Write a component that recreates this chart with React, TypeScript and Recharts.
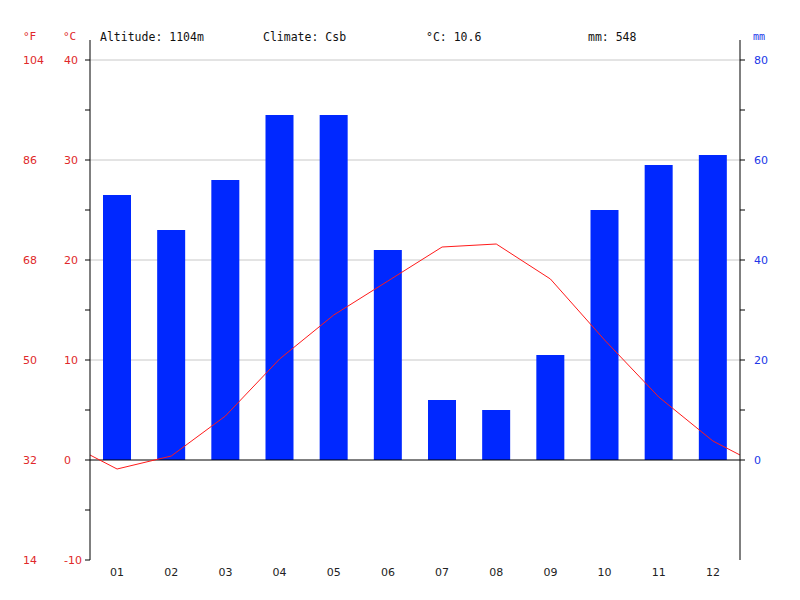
import React from 'react';
import { ComposedChart, Bar, Line, XAxis, YAxis, CartesianGrid, ReferenceLine } from 'recharts';

const months = ['01', '02', '03', '04', '05', '06', '07', '08', '09', '10', '11', '12'];
const monthPos = [0.5, 1.5, 2.5, 3.5, 4.5, 5.5, 6.5, 7.5, 8.5, 9.5, 10.5, 11.5];
const precipitation = [53, 46, 56, 69, 69, 42, 12, 10, 21, 50, 59, 61];
const temperature = [-0.9, 0.4, 4.4, 10.1, 14.5, 17.9, 21.3, 21.6, 18.1, 12.0, 6.3, 1.9];
const edgeTemperature = [0.5, 0.5];
const boundaryTicks = [0, 1, 2, 3, 4, 5, 6, 7, 8, 9, 10, 11, 12];
const celsiusTicks = [-10, -5, 0, 5, 10, 15, 20, 25, 30, 35, 40];
const fahrenheitTicks = [14, 32, 50, 68, 86, 104];
const mmTicks = [0, 10, 20, 30, 40, 50, 60, 70, 80];
const gridLevels = [10, 20, 30, 40];
const headerInfo = ['Altitude: 1104m', 'Climate: Csb', '°C: 10.6', 'mm: 548'];

const barData = months.map((m, i) => ({ x: monthPos[i], month: m, precip: precipitation[i] }));
const lineData = [
  { x: 0, temp: edgeTemperature[0] },
  ...months.map((m, i) => ({ x: monthPos[i], temp: temperature[i] })),
  { x: 12, temp: edgeTemperature[1] },
];

const RED = '#e0282a';
const BLUE = '#2036e8';
const SANS = 'DejaVu Sans, sans-serif';
const MONO = 'DejaVu Sans Mono, monospace';

const CTick = (props: any) => {
  const { x, y, payload } = props;
  if (payload.value % 10 !== 0) return <g />;
  return (
    <text x={x} y={y} dy="0.35em" textAnchor="start" fill={RED} fontSize={11} fontFamily={SANS}>
      {payload.value}
    </text>
  );
};

const FTick = (props: any) => {
  const { x, y, payload } = props;
  return (
    <text x={x} y={y} dy="0.35em" textAnchor="start" fill={RED} fontSize={11} fontFamily={SANS}>
      {payload.value}
    </text>
  );
};

const MmTick = (props: any) => {
  const { x, y, payload } = props;
  if (payload.value % 20 !== 0) return <g />;
  return (
    <text x={x} y={y} dy="0.35em" textAnchor="start" fill={BLUE} fontSize={11} fontFamily={SANS}>
      {payload.value}
    </text>
  );
};

const MonthTick = (props: any) => {
  const { x, y, index } = props;
  return (
    <text x={x} y={y} dy="0.71em" textAnchor="middle" fill="#222" fontSize={11} fontFamily={SANS}>
      {months[index]}
    </text>
  );
};

export default function App() {
  return (
    <div style={{ position: 'absolute', left: 0, top: 0, width: 800, height: 600, background: '#fff' }}>
      <ComposedChart width={800} height={600} data={barData} margin={{ top: 40, right: 0, bottom: 0, left: 0 }}>
        <CartesianGrid vertical={false} yAxisId="c" horizontalValues={gridLevels} stroke="#c8c8c8" />
        <XAxis
          xAxisId={0}
          dataKey="x"
          type="number"
          domain={[0, 12]}
          ticks={boundaryTicks}
          allowDataOverflow
          height={0}
          tick={false}
          tickSize={5}
          stroke="#000"
          tickLine={{ stroke: '#000' }}
        />
        <XAxis
          xAxisId="lab"
          dataKey="x"
          type="number"
          domain={[0, 12]}
          ticks={monthPos}
          allowDataOverflow
          height={40}
          axisLine={false}
          tickLine={false}
          tickSize={5}
          tickMargin={3}
          tick={<MonthTick />}
          interval={0}
        />
        <YAxis
          yAxisId="c"
          type="number"
          domain={[-10, 42]}
          ticks={celsiusTicks}
          allowDataOverflow
          width={45}
          tickSize={5}
          tickMargin={21}
          stroke="#000"
          tickLine={{ stroke: '#000' }}
          tick={<CTick />}
          interval={0}
        />
        <YAxis
          yAxisId="f"
          type="number"
          domain={[14, 107.6]}
          ticks={fahrenheitTicks}
          allowDataOverflow
          width={45}
          axisLine={false}
          tickLine={false}
          tickSize={0}
          tickMargin={22}
          tick={<FTick />}
          interval={0}
        />
        <YAxis
          yAxisId="mm"
          orientation="right"
          type="number"
          domain={[-20, 84]}
          ticks={mmTicks}
          allowDataOverflow
          width={60}
          tickSize={5}
          tickMargin={9}
          stroke="#000"
          tickLine={{ stroke: '#000' }}
          tick={<MmTick />}
          interval={0}
        />
        <Bar xAxisId={0} yAxisId="mm" dataKey="precip" fill="#0028ff" barSize={28} isAnimationActive={false} />
        <ReferenceLine xAxisId={0} yAxisId="c" y={0} stroke="#000" strokeWidth={1} />
        <Line
          xAxisId="lab"
          yAxisId="c"
          data={lineData}
          type="linear"
          dataKey="temp"
          stroke="#ff1a1a"
          strokeWidth={1}
          dot={false}
          activeDot={false}
          isAnimationActive={false}
        />
        <text x={23} y={40} fill={RED} fontSize={11} fontFamily={MONO}>°F</text>
        <text x={63} y={40} fill={RED} fontSize={11} fontFamily={MONO}>°C</text>
        <text x={100} y={41} fill="#111" fontSize={11.5} fontFamily={MONO}>{headerInfo[0]}</text>
        <text x={263} y={41} fill="#111" fontSize={11.5} fontFamily={MONO}>{headerInfo[1]}</text>
        <text x={426} y={41} fill="#111" fontSize={11.5} fontFamily={MONO}>{headerInfo[2]}</text>
        <text x={588} y={41} fill="#111" fontSize={11.5} fontFamily={MONO}>{headerInfo[3]}</text>
        <text x={753} y={40} fill={BLUE} fontSize={10} fontFamily={MONO}>mm</text>
      </ComposedChart>
    </div>
  );
}
